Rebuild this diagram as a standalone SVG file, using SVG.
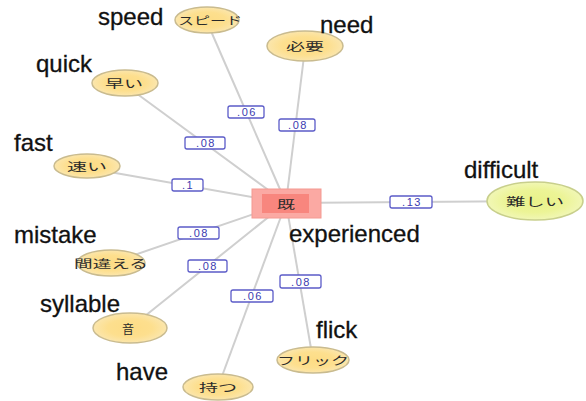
<svg xmlns="http://www.w3.org/2000/svg" width="586" height="401" viewBox="0 0 586 401">
<defs>
<radialGradient id="gy" cx="50%" cy="50%" r="50%">
<stop offset="0" stop-color="#fddc85"/>
<stop offset="0.6" stop-color="#fddf8e"/>
<stop offset="1" stop-color="#fbe6ad"/>
</radialGradient>
<radialGradient id="gg" cx="50%" cy="50%" r="50%">
<stop offset="0" stop-color="#e9f28a"/>
<stop offset="0.6" stop-color="#ecf496"/>
<stop offset="1" stop-color="#f1f7b6"/>
</radialGradient>
<style>
.e{stroke:#c9bb8f;stroke-width:1.5}
.n{fill:url(#gy)}
.g{fill:url(#gg)}
.jt{font-family:"Noto Sans CJK JP","Noto Sans CJK SC",sans-serif;font-size:11px;fill:#2a2a2a;text-anchor:middle;dominant-baseline:central}
.en{font-family:"Liberation Sans",Arial,sans-serif;font-size:24px;fill:#111;stroke:#111;stroke-width:0.3}
.c line{stroke:#cfcfcf;stroke-width:2}
.w rect{fill:#fff;stroke:#5b5bc8;stroke-width:1.3}
.w text{font-family:"Liberation Sans",Arial,sans-serif;font-size:11px;fill:#3a3ab0;text-anchor:middle;dominant-baseline:central;letter-spacing:1.5px}
</style>
</defs>
<rect width="586" height="401" fill="#fff"/>
<g id="connectors" class="c">
<line x1="286" y1="203" x2="207" y2="22"/>
<line x1="286" y1="203" x2="305" y2="48"/>
<line x1="286" y1="203" x2="125" y2="85"/>
<line x1="286" y1="203" x2="87" y2="168"/>
<line x1="286" y1="203" x2="535" y2="201"/>
<line x1="286" y1="203" x2="111" y2="263"/>
<line x1="286" y1="203" x2="130" y2="328"/>
<line x1="286" y1="203" x2="313" y2="360"/>
<line x1="286" y1="203" x2="218" y2="387"/>
</g>
<g id="weights" class="w">
<g><rect x="228" y="106" width="36" height="12" rx="2"/><text x="247" y="112">.06</text></g>
<g><rect x="279" y="119" width="36" height="12" rx="2"/><text x="298" y="125">.08</text></g>
<g><rect x="185" y="137" width="40" height="12" rx="2"/><text x="206" y="143">.08</text></g>
<g><rect x="172" y="179" width="31" height="12" rx="2"/><text x="188" y="185">.1</text></g>
<g><rect x="390" y="196" width="42" height="12" rx="2"/><text x="412" y="202">.13</text></g>
<g><rect x="178" y="227" width="41" height="12" rx="2"/><text x="199" y="233">.08</text></g>
<g><rect x="188" y="260" width="39" height="12" rx="2"/><text x="208" y="266">.08</text></g>
<g><rect x="280" y="275" width="41" height="13" rx="2"/><text x="301" y="281.5">.08</text></g>
<g><rect x="231" y="290" width="42" height="12" rx="2"/><text x="253" y="296">.06</text></g>
</g>
<g id="node-center">
<rect x="252" y="189" width="69" height="29" fill="#fba9a3" stroke="#f39a92" stroke-width="1"/>
<rect x="262" y="194" width="47" height="19" fill="#f8867e"/>
<text x="286" y="204" class="jt" textLength="18" lengthAdjust="spacingAndGlyphs">既</text>
</g>
<g id="node-speed"><ellipse cx="207" cy="20" rx="32" ry="13" class="n e"/><text x="210" y="20" class="jt" textLength="64" lengthAdjust="spacingAndGlyphs">スピード</text></g>
<g id="node-need"><ellipse cx="305" cy="46" rx="38" ry="15" class="n e"/><text x="305" y="46" class="jt" textLength="38" lengthAdjust="spacingAndGlyphs">必要</text></g>
<g id="node-quick"><ellipse cx="125" cy="83" rx="33" ry="13" class="n e"/><text x="124" y="83" class="jt" textLength="38" lengthAdjust="spacingAndGlyphs">早い</text></g>
<g id="node-fast"><ellipse cx="87" cy="166" rx="33" ry="12" class="n e"/><text x="87" y="166" class="jt" textLength="40" lengthAdjust="spacingAndGlyphs">速い</text></g>
<g id="node-difficult"><ellipse cx="535" cy="201" rx="48" ry="19" class="g" stroke="#c8cf8c" stroke-width="1.5"/><text x="535" y="201" class="jt" textLength="58" lengthAdjust="spacingAndGlyphs">難しい</text></g>
<g id="node-mistake"><ellipse cx="111" cy="263" rx="34" ry="13" class="n e"/><text x="111" y="263" class="jt" textLength="74" lengthAdjust="spacingAndGlyphs">間違える</text></g>
<g id="node-syllable"><ellipse cx="130" cy="328" rx="37" ry="15" class="n e"/><text x="128" y="328" class="jt" style="font-size:12px">音</text></g>
<g id="node-flick"><ellipse cx="313" cy="360" rx="36" ry="13" class="n e"/><text x="313" y="360" class="jt" textLength="72" lengthAdjust="spacingAndGlyphs">フリック</text></g>
<g id="node-have"><ellipse cx="218" cy="387" rx="35" ry="13" class="n e"/><text x="218" y="387" class="jt" textLength="38" lengthAdjust="spacingAndGlyphs">持つ</text></g>
<g id="labels">
<text x="98" y="25" class="en">speed</text>
<text x="320" y="33" class="en">need</text>
<text x="36" y="72" class="en">quick</text>
<text x="14" y="151" class="en">fast</text>
<text x="464" y="178" class="en">difficult</text>
<text x="289" y="242" class="en">experienced</text>
<text x="14" y="243" class="en">mistake</text>
<text x="40" y="312" class="en">syllable</text>
<text x="316" y="338" class="en">flick</text>
<text x="116" y="380" class="en">have</text>
</g>
</svg>
